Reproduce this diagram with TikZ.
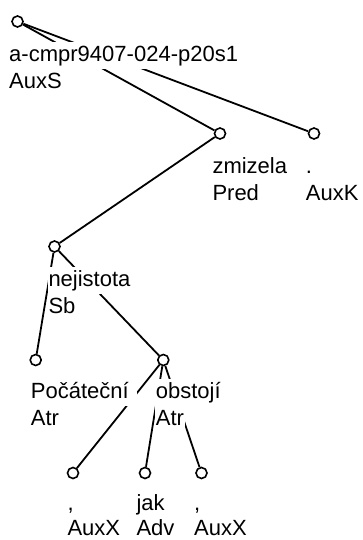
\documentclass[tikz,border=0pt]{standalone}
\usepackage{fontspec}
\setmainfont{Liberation Sans}
\begin{document}
\begin{tikzpicture}[x=1pt,y=-1pt,
  vertex/.style={circle,draw,fill=white,line width=1.6pt,minimum size=11pt,inner sep=0pt},
  edge/.style={line width=1.8pt},
  lbl/.style={anchor=base west,fill=white,inner xsep=1pt,inner ysep=0pt,
    text height=19.5pt,text depth=7.5pt,font=\fontsize{22}{27}\selectfont},
  formlbl/.style={lbl,execute at end node={\hspace{7pt}}},
  funlbl/.style={lbl},
  lastfun/.style={lbl,text depth=1pt}]
\useasboundingbox (0,0) rectangle (362,540);

% tree vertices
\node[vertex] (root) at (17.5,21.5) {};
\node[vertex] (zmizela) at (220,133.5) {};
\node[vertex] (dot) at (314,133.5) {};
\node[vertex] (nejistota) at (54.5,246.5) {};
\node[vertex] (pocatecni) at (35.7,360) {};
\node[vertex] (obstoji) at (163.3,360) {};
\node[vertex] (comma1) at (73,473) {};
\node[vertex] (jak) at (145,473) {};
\node[vertex] (comma2) at (201.5,473) {};

% dependency edges
\draw[edge] (root) -- (zmizela);
\draw[edge] (root) -- (dot);
\draw[edge] (zmizela) -- (nejistota);
\draw[edge] (nejistota) -- (pocatecni);
\draw[edge] (nejistota) -- (obstoji);
\draw[edge] (obstoji) -- (comma1);
\draw[edge] (obstoji) -- (jak);
\draw[edge] (obstoji) -- (comma2);

% word form and afun labels (the sentence id is spread to its full width)
\node[formlbl] (root-f) at (8,62) {\makebox[229pt][s]{a\hfil-\hfil c\hfil m\hfil p\hfil r\hfil 9\hfil 4\hfil 0\hfil 7\hfil -\hfil 0\hfil 2\hfil 4\hfil -\hfil p\hfil 2\hfil 0\hfil s\hfil 1}};
\node[funlbl] (root-a) at (8,88.5) {AuxS};
\node[formlbl] (zmizela-f) at (211.3,173.5) {zmizela};
\node[funlbl] (zmizela-a) at (211.3,200.5) {Pred};
\node[formlbl] (dot-f) at (304.7,173.5) {.};
\node[funlbl] (dot-a) at (304.7,200.5) {AuxK};
\node[formlbl] (nejistota-f) at (47.3,286.5) {nejistota};
\node[funlbl] (nejistota-a) at (47.3,313.5) {Sb};
\node[formlbl] (pocatecni-f) at (29.7,398.5) {Počáteční};
\node[funlbl] (pocatecni-a) at (29.7,425.5) {Atr};
\node[formlbl] (obstoji-f) at (154.7,398.5) {obstojí};
\node[funlbl] (obstoji-a) at (154.7,425.5) {Atr};
\node[formlbl] (comma1-f) at (66.3,510) {,};
\node[lastfun] (comma1-a) at (66.3,535) {AuxX};
\node[formlbl] (jak-f) at (135.3,510) {jak};
\node[lastfun] (jak-a) at (135.3,535) {Adv};
\node[formlbl] (comma2-f) at (193,510) {,};
\node[lastfun] (comma2-a) at (193,535) {AuxX};
\end{tikzpicture}
\end{document}
